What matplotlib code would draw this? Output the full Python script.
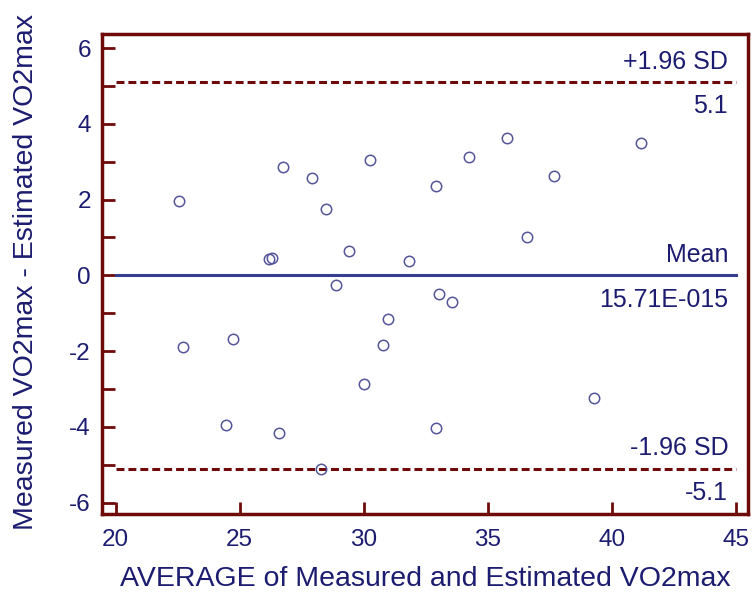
import matplotlib
matplotlib.use("Agg")
import matplotlib.pyplot as plt

plt.rcParams['font.family'] = ['Liberation Sans', 'DejaVu Sans']
plt.rcParams['axes.unicode_minus'] = False

# Bland-Altman data
avg = [22.54, 22.70, 24.44, 24.72, 26.20, 26.30, 26.75, 26.58, 27.92, 28.50,
       28.90, 29.40, 30.25, 28.27, 30.97, 30.80, 30.00, 31.81, 32.90, 34.23,
       35.80, 37.66, 36.57, 41.20, 33.02, 33.55, 39.30, 32.90]
diff = [1.96, -1.90, -3.94, -1.69, 0.42, 0.47, 2.87, -4.17, 2.57, 1.76,
        -0.25, 0.64, 3.04, -5.12, -1.14, -1.85, -2.86, 0.37, 2.35, 3.12,
        3.62, 2.62, 1.01, 3.50, -0.48, -0.71, -3.23, -4.02]
mean_diff = 0.0
upper = 5.1
lower = -5.1
line_labels = [('+1.96 SD', '5.1', upper),
               ('Mean', '15.71E-015', mean_diff),
               ('-1.96 SD', '-5.1', lower)]
x_ticks = [20, 25, 30, 35, 40, 45]
y_ticks = [-6, -4, -2, 0, 2, 4, 6]

navy = '#1c1c70'
dark_red = '#6e0a0a'
mean_col = '#34408f'

fig = plt.figure(figsize=(7.54, 5.97), dpi=100)
ax = fig.add_axes([0.1353, 0.1390, 0.8567, 0.8040])

x0, x1 = 20, 45
ax.plot([x0, x1], [mean_diff, mean_diff], color=mean_col, lw=2.2)
ax.plot([x0, x1], [upper, upper], color=dark_red, lw=2.2, dashes=(2.6, 1.3))
ax.plot([x0, x1], [lower, lower], color=dark_red, lw=2.2, dashes=(2.6, 1.3))

ax.plot(avg, diff, 'o', ms=7.5, mfc='none', mec='#55559a', mew=1.1)

# labels above / below each horizontal line, right aligned
tx = 44.7
for top_txt, bot_txt, yv in line_labels:
    ax.annotate(top_txt, (tx, yv), xytext=(0, 9.5), textcoords='offset points',
                ha='right', va='baseline', fontsize=18, color=navy)
    ax.annotate(bot_txt, (tx, yv), xytext=(0, -22.5), textcoords='offset points',
                ha='right', va='baseline', fontsize=18, color=navy)

ax.set_xlim(19.45, 45.5)
ax.set_ylim(-6.3, 6.37)
ax.set_xticks(x_ticks)
ax.set_yticks(y_ticks)
ax.set_yticks(range(-6, 7), minor=True)
ax.tick_params(axis='both', which='both', direction='in', length=9, width=2,
               color=dark_red, labelcolor=navy, labelsize=17.5)
ax.tick_params(axis='x', pad=11)
ax.tick_params(axis='y', pad=8)
for s in ax.spines.values():
    s.set_color(dark_red)
    s.set_linewidth(2.5)

ax.set_xlabel('AVERAGE of Measured and Estimated VO2max', fontsize=20.5, color=navy)
ax.set_ylabel('Measured VO2max - Estimated VO2max', fontsize=20.5, color=navy)
ax.xaxis.set_label_coords(0.5, -0.108)
ax.yaxis.set_label_coords(-0.098, 0.505)

fig.savefig('out.png', dpi=100)
